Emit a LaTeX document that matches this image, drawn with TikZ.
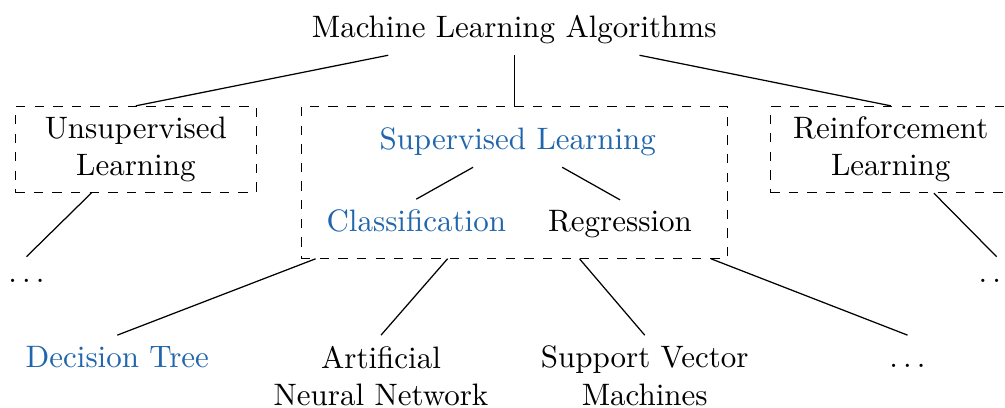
\documentclass[tikz,border=0pt]{standalone}
\usepackage{tikz}
\definecolor{mlblue}{RGB}{33,102,172}
\tikzset{
	groupbox/.style={draw, dashed, text width=2.5cm, align=center, anchor=north},
	leaf/.style={align=center, anchor=north},
}

\begin{document}
\begin{tikzpicture}
		%%%%% START %%%%%
		\useasboundingbox (0, 0) rectangle (11.395, -4.626);
		
		\node[anchor=base] (ml) at (5.83, -0.43) {Machine Learning Algorithms};
		
		% second level: the three kinds of learning
		\node[groupbox] (unsup) at (1.54, -1.20) {Unsupervised Learning};
		\node[draw, dashed, anchor=north, minimum width=4.83cm, minimum height=1.72cm] (sup) at (5.83, -1.20) {};
		\node[groupbox] (reinf) at (10.10, -1.20) {Reinforcement Learning};
		
		\draw (ml) -- (unsup.north);
		\draw (ml) -- (sup.north);
		\draw (ml) -- (reinf.north);
		
		% inside the supervised box
		\node[anchor=base, color=mlblue] (sl) at (5.87, -1.70) {Supervised Learning};
		\node[anchor=base, color=mlblue] (cls) at (4.72, -2.63) {Classification};
		\node[anchor=base] (reg) at (7.03, -2.63) {Regression};
		\draw (sl) -- (cls.north);
		\draw (sl) -- (reg.north);
		
		\node[anchor=base, text height=4.7pt] (ldots) at (0.30, -3.20) {$\ldots$};
		\node[anchor=base, text height=4.7pt] (rdots) at (11.30, -3.20) {$\ldots$};
		\draw (unsup) -- (ldots.north);
		\draw (reinf) -- (rdots.north);
		
		% algorithms below the box
		\node[leaf, color=mlblue] (dt) at (1.33, -3.80) {Decision Tree};
		\node[leaf] (ann) at (4.32, -3.80) {Artificial\\Neural Network};
		\node[leaf] (svm) at (7.31, -3.80) {Support Vector\\Machines};
		\node[leaf, text height=7pt] (bdots) at (10.29, -3.80) {$\ldots$};
		
		\draw (sup) -- (dt.north);
		\draw (sup) -- (ann.north);
		\draw (sup) -- (svm.north);
		\draw (sup) -- (bdots.north);
		
		%%%%% END %%%%%
	\end{tikzpicture}
\end{document}
